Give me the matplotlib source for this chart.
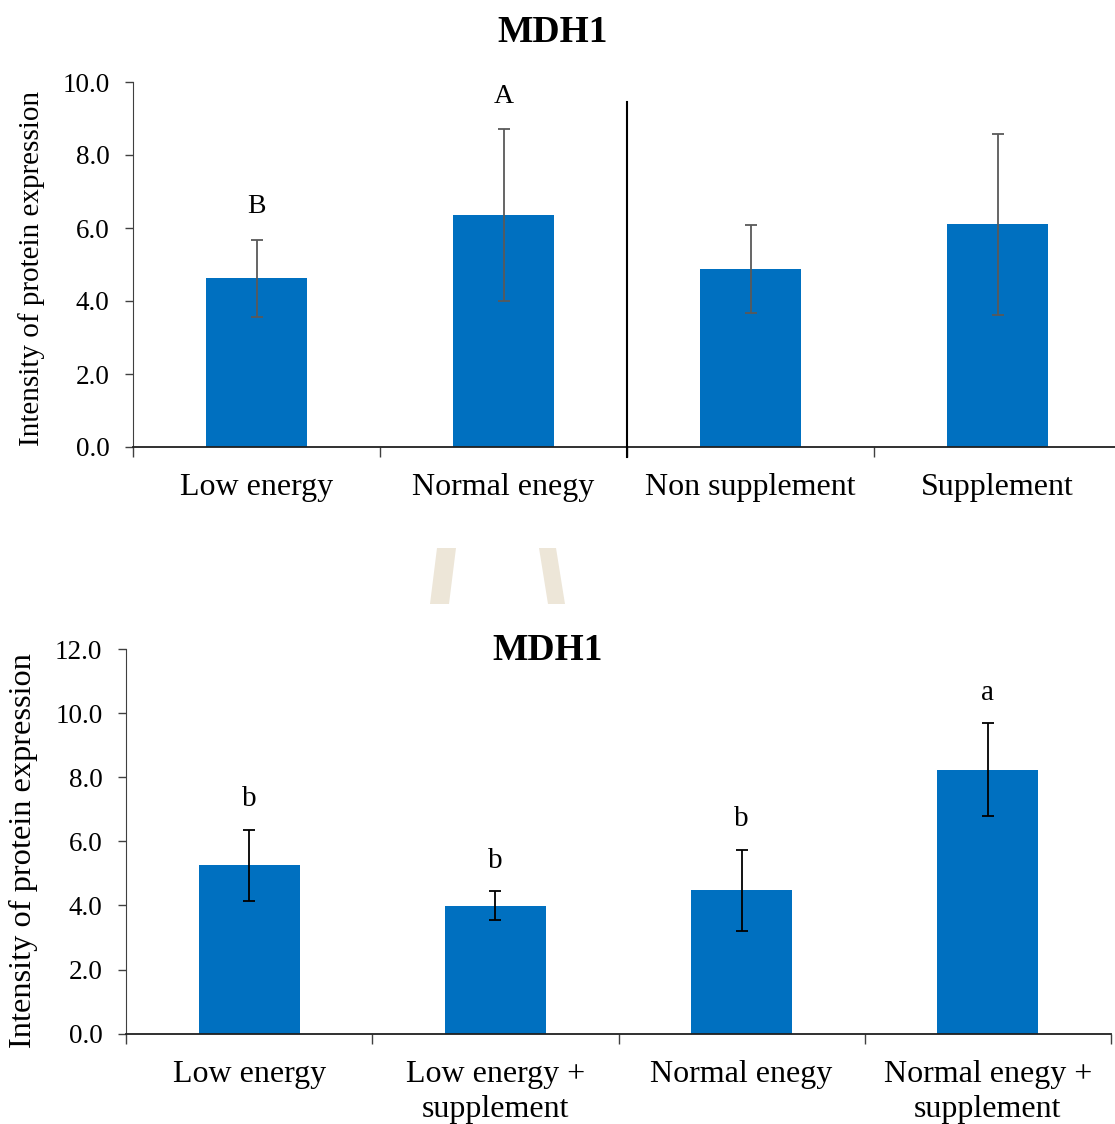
import matplotlib
matplotlib.use("Agg")
from matplotlib import pyplot as plt
from matplotlib.patches import Polygon
import numpy as np

plt.rcParams['font.family'] = ['Liberation Serif', 'DejaVu Serif']

# top panel: main effects
top_labels = ['Low energy', 'Normal enegy', 'Non supplement', 'Supplement']
top_means = [4.62, 6.35, 4.87, 6.10]
top_err = [1.05, 2.35, 1.20, 2.48]
top_letters = ['B', 'A', '', '']

# bottom panel: treatment combinations
bot_labels = ['Low energy', 'Low energy +\nsupplement', 'Normal enegy', 'Normal enegy +\nsupplement']
bot_means = [5.25, 3.99, 4.47, 8.23]
bot_err = [1.11, 0.45, 1.27, 1.45]
bot_letters = ['b', 'b', 'b', 'a']

bar_color = '#0070C0'

fig = plt.figure(figsize=(11.15, 11.24), dpi=100)
W, H = 1115, 1124


def style_axes(ax, labels, ymax, step):
    n = len(labels)
    ax.set_xlim(-0.5, n - 0.5)
    ax.set_ylim(0, ymax)
    ax.set_yticks(np.arange(0, ymax + 0.01, step))
    ax.set_yticklabels(['%.1f' % v for v in np.arange(0, ymax + 0.01, step)], fontsize=19.5)
    ax.set_xticks(np.arange(-0.5, n, 1.0))
    ax.set_xticklabels([])
    ax.set_xticks(np.arange(n), minor=True)
    ax.set_xticklabels(labels, minor=True, fontsize=23, linespacing=1.25)
    ax.tick_params(axis='x', which='minor', length=0, pad=19)
    ax.tick_params(axis='x', which='major', length=7, width=1, direction='out', color='#404040')
    ax.tick_params(axis='y', length=6, width=1, direction='out', color='#404040', pad=11)
    for s in ['top', 'right']:
        ax.spines[s].set_visible(False)
    ax.spines['left'].set_color('#404040')
    ax.spines['bottom'].set_color('#202020')
    ax.spines['bottom'].set_linewidth(1.3)


# top chart
ax1 = fig.add_axes([133 / W, (H - 447) / H, 988 / W, 365 / H])
x = np.arange(len(top_labels))
ax1.bar(x, top_means, width=0.405, color=bar_color, zorder=2)
ax1.errorbar(x, top_means, yerr=top_err, fmt='none', ecolor='#595959',
             elinewidth=1.3, capsize=4.5, capthick=1.3, zorder=3)
for i in range(len(x)):
    if top_letters[i]:
        ax1.annotate(top_letters[i], (x[i], top_means[i] + top_err[i]),
                     xytext=(0, 24), textcoords='offset points',
                     ha='center', va='center', fontsize=20)
style_axes(ax1, top_labels, 10, 2)
ax1.plot([1.5, 1.5], [9.46, -0.28], color='black', lw=1.5, clip_on=False, zorder=4)
ax1.set_ylabel('Intensity of protein expression', fontsize=21)
ax1.yaxis.set_label_coords(-0.089, 0.49)
fig.text(553 / W, 1 - 33 / H, 'MDH1', ha='center', va='center', fontsize=27, fontweight='bold')

# bottom chart
ax2 = fig.add_axes([126 / W, (H - 1033.7) / H, 985 / W, 384.7 / H])
x = np.arange(len(bot_labels))
ax2.bar(x, bot_means, width=0.41, color=bar_color, zorder=2)
ax2.errorbar(x, bot_means, yerr=bot_err, fmt='none', ecolor='black',
             elinewidth=1.3, capsize=4.5, capthick=1.3, zorder=3)
for i in range(len(x)):
    ax2.annotate(bot_letters[i], (x[i], bot_means[i] + bot_err[i]),
                 xytext=(0, 22), textcoords='offset points',
                 ha='center', va='center', fontsize=21)
style_axes(ax2, bot_labels, 12, 2)
ax2.set_ylabel('Intensity of protein expression', fontsize=23.3)
ax2.yaxis.set_label_coords(-0.0893, 0.475)
fig.text(548 / W, 1 - 651 / H, 'MDH1', ha='center', va='center', fontsize=27, fontweight='bold')

# faint watermark fragment between the panels
wm = '#EDE6D8'
for pts in ([(437, 548), (456, 548), (449, 604), (430, 604)],
            [(539, 548), (556, 548), (565, 604), (548, 604)]):
    fig.patches.append(Polygon([(px / W, 1 - py / H) for px, py in pts], closed=True,
                               transform=fig.transFigure, facecolor=wm, edgecolor='none'))

fig.savefig('out.png', dpi=100)
